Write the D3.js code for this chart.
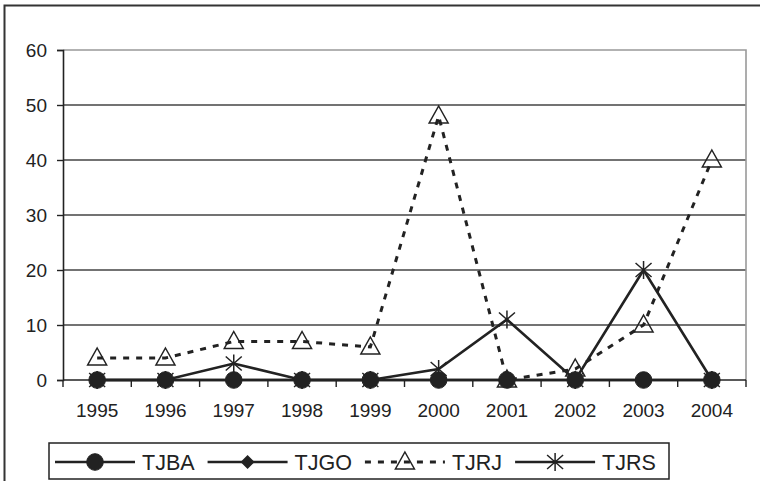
<!DOCTYPE html>
<html>
<head>
<meta charset="utf-8">
<script src="https://cdn.jsdelivr.net/npm/d3@7"></script>
<style>
  html, body { margin: 0; padding: 0; background: #fff; }
  svg { display: block; }
  text { font-family: "Liberation Sans", Arial, sans-serif; fill: #222; }
</style>
</head>
<body>
<svg id="chart" width="760" height="481"></svg>
<script>
const years = ["1995","1996","1997","1998","1999","2000","2001","2002","2003","2004"];
const yTicks = [0,10,20,30,40,50,60];
const TJBA = [0,0,0,0,0,0,0,0,0,0];
const TJGO = [0,0,0,0,0,0,0,0,0,0];
const TJRJ = [4,4,7,7,6,48,0,2,10,40];
const TJRS = [0,0,3,0,0,2,11,0,20,0];
const seriesNames = ["TJBA","TJGO","TJRJ","TJRS"];

const series = [
  {name: "TJBA", values: TJBA, marker: "circle", dash: null},
  {name: "TJGO", values: TJGO, marker: "diamond", dash: null},
  {name: "TJRJ", values: TJRJ, marker: "triangle", dash: "6,7"},
  {name: "TJRS", values: TJRS, marker: "star", dash: null}
];

const svg = d3.select("#chart");
const ink = "#222";

// outer frame
svg.append("rect").attr("x",4.5).attr("y",5.5).attr("width",800).attr("height",520)
  .attr("fill","none").attr("stroke","#333").attr("stroke-width",2);

const x = d3.scaleBand().domain(years).range([63,746]);
const y = d3.scaleLinear().domain([0,60]).range([380,50]);

// gridlines
svg.append("g").selectAll("line").data(yTicks.filter(t => t>0 && t<60)).join("line")
  .attr("x1",63).attr("x2",746).attr("y1",d=>y(d)).attr("y2",d=>y(d))
  .attr("stroke","#444").attr("stroke-width",1.4);

// plot border (top/right)
svg.append("path")
  .attr("d",`M63,${y(60)}H746V${y(0)}`)
  .attr("fill","none").attr("stroke","#999").attr("stroke-width",1.6);

// y axis
const yAxis = d3.axisLeft(y).tickValues(yTicks).tickSize(6).tickPadding(10);
const gy = svg.append("g").attr("transform","translate(63,0)").call(yAxis);
gy.select(".domain").attr("stroke",ink).attr("stroke-width",1.6);
gy.selectAll(".tick line").attr("stroke",ink).attr("stroke-width",1.4);
gy.selectAll(".tick text").attr("font-size",19).attr("fill",ink)
  .attr("font-family","Liberation Sans, Arial, sans-serif");

// x axis
const gx = svg.append("g").attr("transform",`translate(0,${y(0)})`)
  .call(d3.axisBottom(x).tickSize(0).tickPadding(0));
gx.select(".domain").remove();
gx.selectAll(".tick text").attr("font-size",19).attr("fill",ink).attr("dy",0).attr("y",37)
  .attr("font-family","Liberation Sans, Arial, sans-serif");
gx.append("line").attr("x1",63).attr("x2",746).attr("y1",0).attr("y2",0)
  .attr("stroke",ink).attr("stroke-width",1.6);
const bounds = years.map(d => x(d)).concat([x(years[years.length-1]) + x.bandwidth()]);
gx.selectAll(".bt").data(bounds).join("line").attr("class","bt")
  .attr("x1",d=>d).attr("x2",d=>d).attr("y1",0).attr("y2",7)
  .attr("stroke",ink).attr("stroke-width",1.4);

// markers
function markerPath(type){
  if (type==="diamond") return "M0,-7L7,0L0,7L-7,0Z";
  if (type==="triangle") return "M0,-10L9.5,7L-9.5,7Z";
  if (type==="star") return "M0,-9V9M-8,-7L8,7M-8,7L8,-7";
  return null;
}
function drawMarker(g, type, cx, cy){
  if (type==="circle") {
    g.append("circle").attr("cx",cx).attr("cy",cy).attr("r",8.3).attr("fill",ink).attr("stroke",ink);
  } else if (type==="diamond") {
    g.append("path").attr("d",markerPath(type)).attr("transform",`translate(${cx},${cy})`).attr("fill",ink);
  } else {
    g.append("path").attr("d",markerPath(type)).attr("transform",`translate(${cx},${cy})`)
      .attr("fill","none").attr("stroke",ink).attr("stroke-width",1.5);
  }
}

const cx = d => x(d) + x.bandwidth()/2;
const line = d3.line().x(d=>cx(d.year)).y(d=>y(d.v));

// draw in reverse so TJBA is on top
const plot = svg.append("g");
series.slice().reverse().forEach(s => {
  const pts = years.map((yr,i)=>({year:yr, v:s.values[i]}));
  const g = plot.append("g");
  g.append("path").datum(pts).attr("d",line).attr("fill","none")
    .attr("stroke",ink).attr("stroke-width",s.dash ? 3 : 2.6)
    .attr("stroke-dasharray",s.dash);
  pts.forEach(p => drawMarker(g, s.marker, cx(p.year), y(p.v)));
});

// legend
const lg = svg.append("g");
lg.append("rect").attr("x",49).attr("y",443).attr("width",620).attr("height",36)
  .attr("fill","#fff").attr("stroke","#222").attr("stroke-width",1.5);
let lx = 55;
const ly = 462;
series.forEach(s => {
  const it = lg.append("g");
  it.append("line").attr("x1",lx).attr("x2",lx+80).attr("y1",ly).attr("y2",ly)
    .attr("stroke",ink).attr("stroke-width",s.dash ? 3 : 2.4).attr("stroke-dasharray",s.dash);
  drawMarker(it, s.marker, lx+40, ly);
  const t = it.append("text").attr("x",lx+87).attr("y",ly).attr("dy","0.36em")
    .attr("font-size",21.5).text(s.name);
  lx = lx + 87 + t.node().getComputedTextLength() + 13;
});
</script>
</body>
</html>
